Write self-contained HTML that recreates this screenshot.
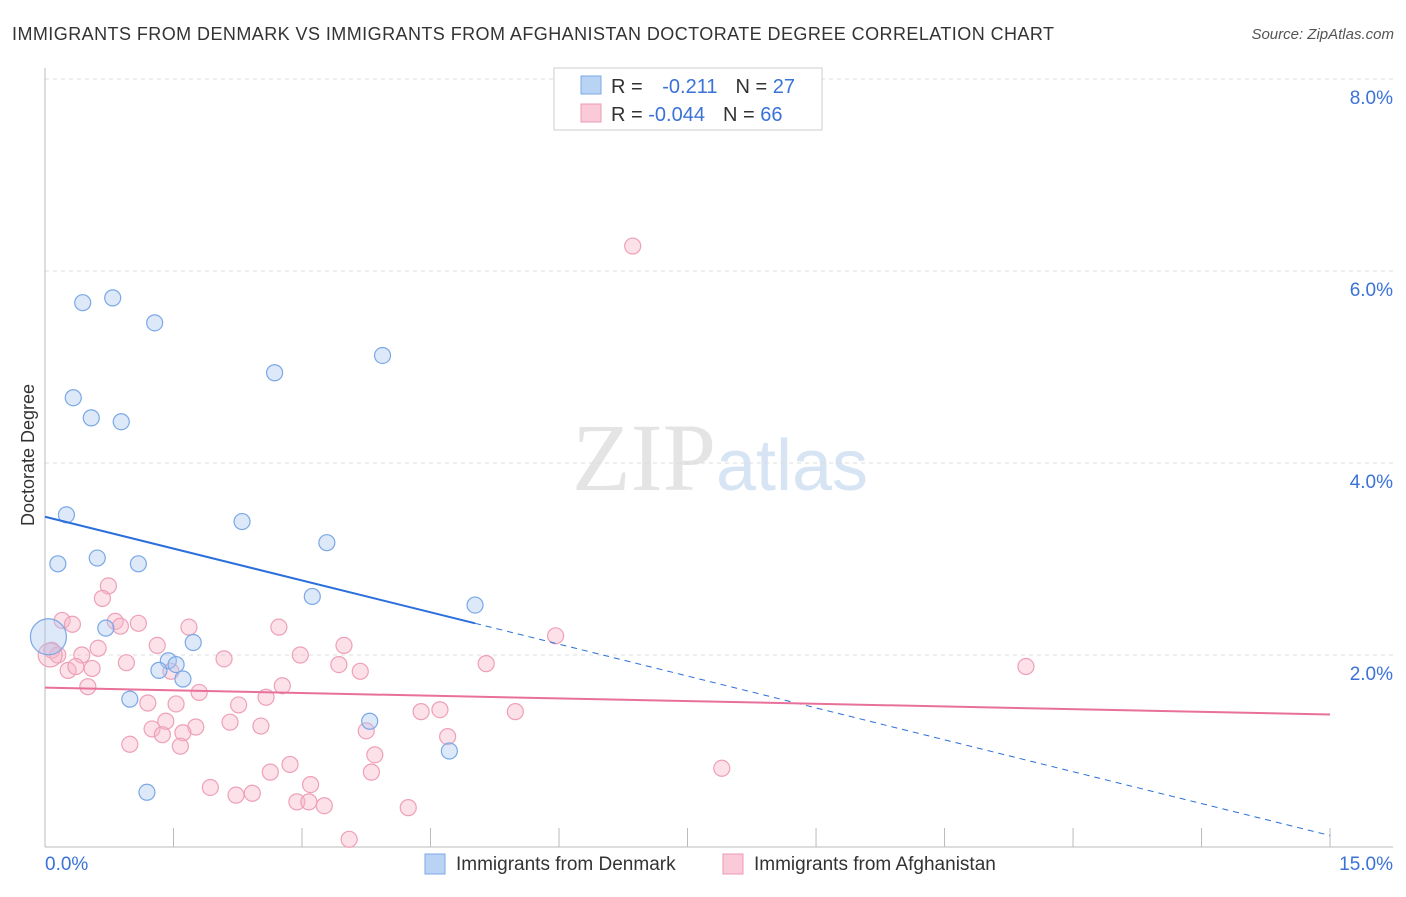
<!DOCTYPE html>
<html><head><meta charset="utf-8"><style>
body{margin:0;background:#fff;font-family:"Liberation Sans",sans-serif}
</style></head><body>
<svg width="1406" height="892" font-family="Liberation Sans, sans-serif">
<text x="12" y="40" font-size="18" fill="#333" textLength="1042">IMMIGRANTS FROM DENMARK VS IMMIGRANTS FROM AFGHANISTAN DOCTORATE DEGREE CORRELATION CHART</text>
<text x="1394" y="39" font-size="15" fill="#555" text-anchor="end" font-style="italic">Source: ZipAtlas.com</text>
<text x="720" y="490" font-size="96" fill="#e4e4e4" text-anchor="middle" font-family="Liberation Serif, serif">ZIP<tspan fill="#d6e4f4" font-family="Liberation Sans, sans-serif" font-size="72">atlas</tspan></text>
<g id="grid"></g><g id="axes"></g><g id="marks"></g>
<text transform="translate(34,455) rotate(-90)" font-size="18" fill="#333" text-anchor="middle">Doctorate Degree</text>
<g>
<rect x="554" y="68" width="268" height="62" fill="#fff" stroke="#ccc"/>
<rect x="581" y="76" width="20" height="18" fill="#b9d3f5" stroke="#7aa8e6"/>
<rect x="581" y="104" width="20" height="18" fill="#fbcad8" stroke="#ee9ab5"/>
<text x="611" y="93" font-size="20" fill="#333">R = <tspan fill="#3a72d8" dx="14">-0.211</tspan><tspan dx="18" fill="#333">N = </tspan><tspan fill="#3a72d8">27</tspan></text>
<text x="611" y="121" font-size="20" fill="#333">R = <tspan fill="#3a72d8">-0.044</tspan><tspan dx="18" fill="#333">N = </tspan><tspan fill="#3a72d8">66</tspan></text>
</g>
<g>
<rect x="425" y="854" width="20" height="20" fill="#b9d3f5" stroke="#7aa8e6"/>
<text x="456" y="870" font-size="19" fill="#333">Immigrants from Denmark</text>
<rect x="723" y="854" width="20" height="20" fill="#fbcad8" stroke="#ee9ab5"/>
<text x="754" y="870" font-size="19" fill="#333">Immigrants from Afghanistan</text>
</g>
</svg>
<script>
const blueX=[0.44,0.79,1.28,3.94,2.68,0.33,0.54,0.89,0.25,2.30,3.29,0.15,0.61,1.09,3.12,5.02,0.71,1.73,1.44,1.33,1.53,1.61,0.99,3.79,4.72,1.19,0.04];
const blueY=[5.67,5.72,5.46,5.12,4.94,4.68,4.47,4.43,3.46,3.39,3.17,2.95,3.01,2.95,2.61,2.52,2.28,2.13,1.94,1.84,1.90,1.75,1.54,1.31,1.00,0.57,2.19];
const pinkX=[6.86,5.96,11.45,5.15,7.90,0.74,0.67,0.20,0.32,0.82,0.88,1.09,1.68,2.73,0.08,0.15,0.43,0.62,1.31,2.09,2.98,3.49,0.95,0.55,0.27,0.36,1.47,3.43,3.68,0.50,1.80,2.58,2.77,1.20,1.53,2.26,4.39,4.61,5.49,1.41,1.25,1.76,2.16,2.52,1.61,1.37,0.99,1.58,3.75,4.70,3.85,2.63,2.86,1.93,2.23,2.42,2.94,3.10,3.08,3.26,4.24,3.55,3.81,0.06];
const pinkY=[6.26,2.20,1.88,1.91,0.82,2.72,2.59,2.36,2.32,2.35,2.30,2.33,2.29,2.29,2.05,2.00,2.00,2.07,2.10,1.96,2.00,2.10,1.92,1.86,1.84,1.88,1.83,1.90,1.83,1.67,1.61,1.56,1.68,1.50,1.49,1.48,1.41,1.43,1.41,1.31,1.23,1.25,1.30,1.26,1.19,1.17,1.07,1.05,1.21,1.15,0.96,0.78,0.86,0.62,0.54,0.56,0.47,0.65,0.47,0.43,0.41,0.08,0.78,2.00];
const yTicks=[2,4,6,8];
const blueLine=[[0,3.44],[5.02,2.33],[15,0.12]];
const pinkLine=[[0,1.66],[15,1.38]];
const NS='http://www.w3.org/2000/svg';
const X=v=>45+v*85.67, Y=v=>847-v*96;
function mk(t,a,p){const e=document.createElementNS(NS,t);for(const k in a)e.setAttribute(k,a[k]);document.getElementById(p).appendChild(e);return e;}
yTicks.forEach(t=>{
 const g=mk('line',{x1:45,x2:1393,y1:Y(t),y2:Y(t),stroke:'#ddd','stroke-dasharray':'4,4'},'grid');
 
 
 const l=mk('text',{x:1393,y:Y(t)+25,'font-size':19,fill:'#3a72d8','text-anchor':'end'},'axes');l.textContent=t.toFixed(1)+'%';
 
 
});
mk('line',{x1:45,x2:45,y1:68,y2:847,stroke:'#bbb'},'axes');
mk('line',{x1:45,x2:1393,y1:847,y2:847,stroke:'#bbb'},'axes');
for(let i=1;i<=10;i++){const t=mk('line',{x1:X(i*1.5),x2:X(i*1.5),y1:828,y2:847,stroke:'#bbb'},'axes');
 
 }
const x0=mk('text',{x:45,y:870,'font-size':19,fill:'#3a72d8'},'axes');x0.textContent='0.0%';


const x1=mk('text',{x:1393,y:870,'font-size':19,fill:'#3a72d8','text-anchor':'end'},'axes');x1.textContent='15.0%';


pinkX.forEach((v,i)=>{const c=mk('circle',{cx:X(v),cy:Y(pinkY[i]),r:i==pinkX.length-1?12:8,fill:'rgba(248,180,200,0.4)',stroke:'#eea0b8','stroke-width':1.2},'marks');
 
 });
blueX.forEach((v,i)=>{const c=mk('circle',{cx:X(v),cy:Y(blueY[i]),r:i==blueX.length-1?18:8,fill:'rgba(170,200,240,0.4)',stroke:'#7aa8e6','stroke-width':1.2},'marks');
 
 });
const bl=mk('line',{x1:X(blueLine[0][0]),y1:Y(blueLine[0][1]),x2:X(blueLine[1][0]),y2:Y(blueLine[1][1]),stroke:'#2a6fdb','stroke-width':2},'marks');


const bd=mk('line',{x1:X(blueLine[1][0]),y1:Y(blueLine[1][1]),x2:X(blueLine[2][0]),y2:Y(blueLine[2][1]),stroke:'#2a6fdb','stroke-width':1,'stroke-dasharray':'6,5'},'marks');


const pl=mk('line',{x1:X(pinkLine[0][0]),y1:Y(pinkLine[0][1]),x2:X(pinkLine[1][0]),y2:Y(pinkLine[1][1]),stroke:'#e8709a','stroke-width':2},'marks');


</script>
</body></html>
